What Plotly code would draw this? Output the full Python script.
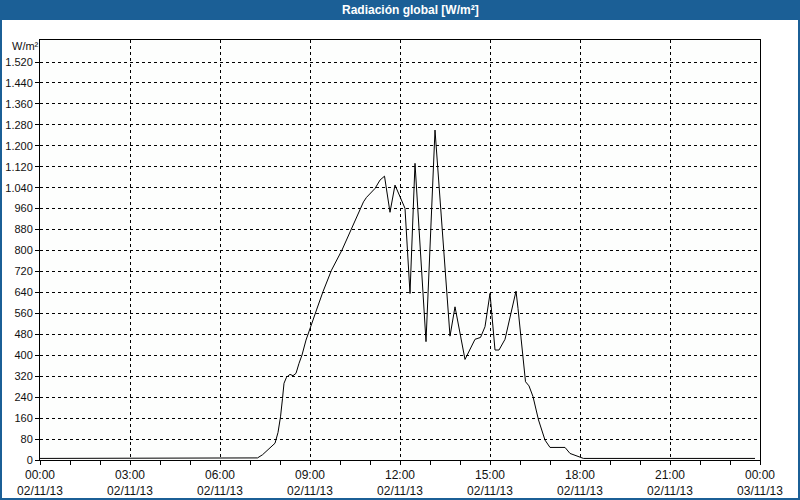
import plotly.graph_objects as go

# ---- data ----
day = "2013-11-02"
times = ["00:00", "07:10", "07:15", "07:25", "07:40", "07:50", "07:56", "08:01", "08:05",
         "08:08", "08:13", "08:20", "08:26", "08:32", "08:38", "08:44", "08:52", "09:00",
         "09:13", "09:26", "09:43", "10:04", "10:23", "10:47", "10:53", "11:10", "11:20",
         "11:29", "11:40", "11:50", "12:10", "12:20", "12:30", "12:52", "13:10", "13:40",
         "13:50", "14:10", "14:30", "14:41", "14:50", "15:00", "15:10", "15:18", "15:30",
         "15:40", "15:52", "15:56", "16:11", "16:18", "16:26", "16:37", "16:50", "17:00",
         "17:30", "17:40", "18:00", "18:07", "23:50"]
radiation = [6, 6, 8, 20, 48, 64, 105, 165, 235,
             293, 316, 327, 322, 331, 369, 401, 458, 505,
             573, 643, 725, 802, 885, 986, 1003, 1037, 1069,
             1084, 946, 1050, 961, 636, 1133, 452, 1260, 473,
             585, 384, 461, 468, 509, 636, 420, 420, 461,
             541, 645, 579, 299, 283, 242, 153, 76, 48,
             48, 25, 13, 6, 6]
title_text = "Radiación global [W/m²]"
unit_text = "W/m²"
y_ticks = list(range(0, 1521, 80))

x = [f"{day} {t}" for t in times]

W, H = 800, 500
L, R, T, B = 40, 40, 40, 40
pw, ph = W - L - R, H - T - B


def px2x(p):
    return (p - L) / pw


def py2y(p):
    return (H - B - p) / ph


blue = "#1b5f96"
font_family = "Liberation Sans, Arial, sans-serif"

fig = go.Figure()
fig.add_trace(go.Scatter(x=x, y=radiation, mode="lines",
                         line=dict(color="black", width=1), hoverinfo="skip",
                         showlegend=False))

fig.update_layout(
    width=W, height=H,
    margin=dict(l=L, r=R, t=T, b=B, autoexpand=False),
    paper_bgcolor="white",
    plot_bgcolor="#fdfefd",
    separators=",.",
    font=dict(family=font_family, size=11, color="#111111"),
    showlegend=False,
    xaxis=dict(
        type="date",
        automargin=False,
        range=["2013-11-02 00:00", "2013-11-03 00:00"],
        tick0="2013-11-02 00:00",
        dtick=3 * 3600000,
        tickformat="%H:%M<br>%d/%m/%y",
        ticks="outside", ticklen=4, tickcolor="black",
        showgrid=True, gridcolor="black", gridwidth=1, griddash="3px,3px",
        showline=True, linecolor="black", linewidth=1, mirror=True,
        zeroline=False,
        minor=dict(dtick=3600000, ticks="outside", ticklen=4, tickcolor="black",
                   showgrid=False),
        tickfont=dict(family=font_family, size=12, color="#111111"),
    ),
    yaxis=dict(
        automargin=False,
        range=[0, 1604],
        tickmode="array", tickvals=y_ticks,
        tickformat=",d",
        ticks="outside", ticklen=4, tickcolor="black",
        showgrid=True, gridcolor="black", gridwidth=1, griddash="3px,3px",
        showline=True, linecolor="black", linewidth=1, mirror=True,
        zeroline=False,
        tickfont=dict(family=font_family, size=11, color="#111111"),
    ),
    shapes=[
        # title bar
        dict(type="rect", xref="paper", yref="paper",
             x0=px2x(0), x1=px2x(W), y0=py2y(20), y1=py2y(0),
             fillcolor=blue, line=dict(width=0), layer="above"),
        # outer border
        dict(type="rect", xref="paper", yref="paper",
             x0=px2x(1), x1=px2x(W - 1), y0=py2y(H - 1), y1=py2y(19),
             fillcolor="rgba(0,0,0,0)", line=dict(color=blue, width=2), layer="above"),
    ],
    annotations=[
        dict(text="<b>" + title_text + "</b>", xref="paper", yref="paper",
             x=px2x(411), y=py2y(10), showarrow=False, xanchor="center", yanchor="middle",
             font=dict(family=font_family, size=12, color="white")),
        dict(text=unit_text, xref="paper", yref="paper",
             x=px2x(10), y=py2y(46), showarrow=False, xanchor="left", yanchor="middle",
             font=dict(family=font_family, size=11, color="#111111")),
    ],
)

fig.write_html("out.html")
